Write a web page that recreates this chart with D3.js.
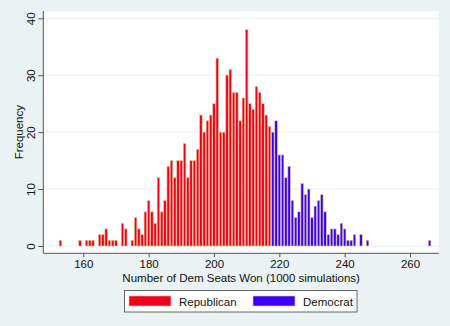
<!DOCTYPE html>
<html><head><meta charset="utf-8">
<script src="https://cdn.jsdelivr.net/npm/d3@7"></script>
<style>body{margin:0;background:#eaf2f3;}svg{display:block;font-family:"Liberation Sans",Arial,sans-serif;}</style>
</head><body>
<svg id="c" width="450" height="326"></svg>
<script>
const seats = [153,159,161,162,163,165,166,167,168,169,170,172,173,175,176,177,178,179,180,181,182,183,184,185,186,187,188,189,190,191,192,193,194,195,196,197,198,199,200,201,202,203,204,205,206,207,208,209,210,211,212,213,214,215,216,217,218,219,220,221,222,223,224,225,226,227,228,229,230,231,232,233,234,235,236,237,238,239,240,241,242,243,245,247,266];
const freq = [1,1,1,1,1,2,2,3,1,1,1,4,3,1,5,3,2,6,8,6,4,12,6,8,14,15,12,15,15,18,12,15,15,17,23,20,22,23,25,33,20,20,30,31,27,27,22,26,38,25,24,28,27,25,23,21,20,22,16,16,12,14,8,5,6,11,9,10,5,7,8,9,6,2,3,3,2,4,3,1,1,2,2,1,1];
const xTicks = [160,180,200,220,240,260];
const yTicks = [0,10,20,30,40];
const legendLabels = ["Republican","Democrat"];
const colors = ["#f2001f","#3c00f8"];
const threshold = 218;

const svg = d3.select("#c");
const x = d3.scaleLinear().domain([160,260]).range([83.3,410]);
const y = d3.scaleLinear().domain([0,40]).range([246,18.3]);
const L=43.3,R=439,T=11,B=253.3;

svg.append("rect").attr("x",L).attr("y",T).attr("width",R-L).attr("height",B-T).attr("fill","#ffffff");
svg.append("g").selectAll("line").data(yTicks).join("line")
  .attr("x1",L).attr("x2",R).attr("y1",d=>y(d)).attr("y2",d=>y(d))
  .attr("stroke","#e6eff0").attr("stroke-width",1);

const pitch = x(161)-x(160);
const bw = pitch*0.78;
svg.append("g").selectAll("rect").data(seats).join("rect")
  .attr("x",(d)=>x(d)-bw/2).attr("width",bw)
  .attr("y",(d,i)=>y(freq[i])).attr("height",(d,i)=>y(0)-y(freq[i]))
  .attr("fill",d=>d>=threshold?colors[1]:colors[0])
  .attr("stroke","#dccb95").attr("stroke-width",0.6);

// x axis
const xa = svg.append("g").attr("transform",`translate(0,${B})`)
  .call(d3.axisBottom(x).tickValues(xTicks).tickSize(4).tickPadding(3));
xa.select(".domain").attr("d",`M${L},0H${R}`).attr("stroke","#555");
xa.selectAll(".tick line").attr("stroke","#555");
xa.selectAll("text").attr("font-size",11.5).attr("fill","#111").attr("font-family","Liberation Sans, Arial, sans-serif");

// y axis
const ya = svg.append("g").attr("transform",`translate(${L},0)`)
  .call(d3.axisLeft(y).tickValues(yTicks).tickSize(5).tickPadding(3));
ya.select(".domain").attr("d",`M0,${B}V${T}`).attr("stroke","#555");
ya.selectAll(".tick line").attr("stroke","#555");
ya.selectAll("text").attr("font-size",11.5).attr("fill","#111").attr("font-family","Liberation Sans, Arial, sans-serif")
  .attr("text-anchor","middle").attr("x",0).attr("dy",0)
  .attr("transform","translate(-8.5,0) rotate(-90)");

svg.append("text").attr("transform",`translate(22.5,${(T+B)/2}) rotate(-90)`)
  .attr("text-anchor","middle").attr("font-size",11.5).attr("fill","#111").text("Frequency");
svg.append("text").attr("x",(L+R)/2+0).attr("y",282).attr("text-anchor","middle")
  .attr("font-size",11.5).attr("fill","#111").text("Number of Dem Seats Won (1000 simulations)");

// legend
const lg = svg.append("g");
lg.append("rect").attr("x",124.5).attr("y",290.5).attr("width",232.5).attr("height",21.5)
  .attr("fill","#fff").attr("stroke","#444").attr("stroke-width",0.8);
const keyX=[129,253], txtX=[179,303];
legendLabels.forEach((t,i)=>{
  lg.append("rect").attr("x",keyX[i]).attr("y",296).attr("width",42).attr("height",10)
    .attr("fill",colors[i]).attr("stroke","#dccb95").attr("stroke-width",0.6);
  lg.append("text").attr("x",txtX[i]).attr("y",305.5).attr("font-size",11.5).attr("fill","#111").text(t);
});
</script>
</body></html>
